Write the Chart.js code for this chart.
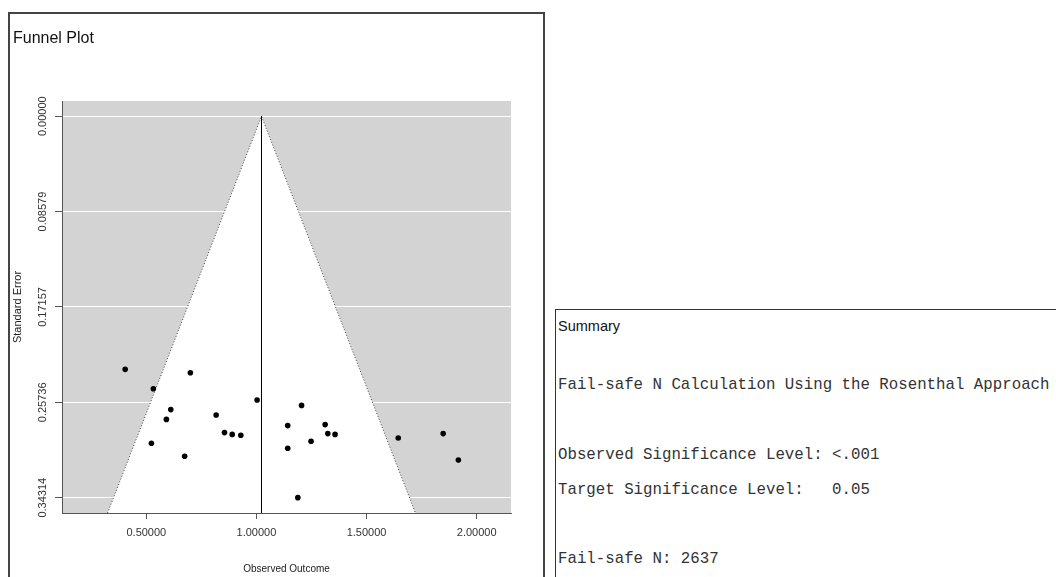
<!DOCTYPE html>
<html>
<head>
<meta charset="utf-8">
<title>Funnel Plot</title>
<script src="https://cdn.jsdelivr.net/npm/chart.js@4.4.1/dist/chart.umd.min.js"></script>
<style>
    body { margin: 0; background: #fff; width: 1056px; height: 577px; overflow: hidden; position: relative; }
    #plotPanel { position: absolute; left: 8px; top: 12px; width: 537px; height: 600px; box-sizing: border-box; border: 2px solid #444; }
    #plotTitle { position: absolute; left: 13px; top: 28px; font: 16px "Liberation Sans", Arial, sans-serif; color: #111; line-height: 20px; }
    #summaryPanel { position: absolute; left: 555px; top: 309px; width: 520px; height: 300px; box-sizing: border-box; border: 1px solid #333; }
    .sumHead { position: absolute; left: 558px; font: 14.5px "Liberation Sans", Arial, sans-serif; color: #111; line-height: 18px; }
    .mono { position: absolute; left: 558px; font: 15.75px "Liberation Mono", "Courier New", monospace; color: #333; line-height: 18px; white-space: pre; }
</style>
</head>
<body>
<div id="plotPanel"></div>
<div id="plotTitle">Funnel Plot</div>
<canvas id="funnelChart" width="550" height="577"></canvas>

<div id="summaryPanel"></div>
<div class="sumHead" style="top:317px">Summary</div>
<div class="mono" style="top:376px">Fail-safe N Calculation Using the Rosenthal Approach</div>
<div class="mono" style="top:446px">Observed Significance Level: &lt;.001</div>
<div class="mono" style="top:481px">Target Significance Level:   0.05</div>
<div class="mono" style="top:550px">Fail-safe N: 2637</div>

<script>
// Datos
const studyEffects = [0.404, 0.700, 0.532, 1.003, 0.611, 0.817, 0.591, 1.205, 1.142, 0.855, 0.890, 0.929,
                      1.248, 0.523, 1.142, 0.674, 1.188, 1.312, 1.324, 1.357, 1.644, 1.848, 1.917];
const studySE      = [0.2277, 0.2307, 0.2451, 0.2553, 0.2639, 0.2688, 0.2727, 0.2601, 0.2783, 0.2846, 0.2862, 0.2870,
                      0.2924, 0.2942, 0.2987, 0.3059, 0.3431, 0.2774, 0.2855, 0.2862, 0.2895, 0.2855, 0.3093];
const summaryEffect = 1.023;
const funnelX = [0.324, 1.023, 1.722];
const funnelY = [0.3569, 0, 0.3569];
const xTickValues = [0.5, 1.0, 1.5, 2.0];
const yTickValues = [0, 0.08579, 0.17157, 0.25736, 0.34314];
const xLimits = [0.117, 2.156];
const yLimits = [-0.0137, 0.3569];

const canvas = document.getElementById('funnelChart');

// Fondo gris del area de trazado
const plotBackground = {
    id: 'plotBackground',
    beforeDraw(chart) {
        const { ctx, chartArea: a } = chart;
        ctx.save();
        ctx.fillStyle = '#d3d3d3';
        ctx.fillRect(a.left, a.top, a.right - a.left, a.bottom - a.top);
        ctx.restore();
    }
};

const points = studyEffects.map((x, i) => ({ x: x, y: studySE[i] }));
const funnelShape = funnelX.map((x, i) => ({ x: x, y: funnelY[i] }));
const centerLine = [{ x: summaryEffect, y: 0 }, { x: summaryEffect, y: yLimits[1] }];

const tickFont = { family: '"Liberation Sans", Arial, sans-serif', size: 11 };

new Chart(canvas.getContext('2d'), {
    type: 'scatter',
    data: {
        datasets: [
            {
                label: 'Studies',
                data: points,
                order: 0,
                pointRadius: 2.8,
                pointBackgroundColor: '#000',
                pointBorderWidth: 0
            },
            {
                type: 'line',
                label: 'Summary',
                data: centerLine,
                order: 1,
                borderColor: '#000',
                borderWidth: 1,
                pointRadius: 0,
                fill: false
            },
            {
                type: 'line',
                label: 'Funnel',
                data: funnelShape,
                order: 2,
                borderColor: '#444',
                borderWidth: 1,
                borderDash: [1, 2],
                backgroundColor: '#ffffff',
                pointRadius: 0,
                tension: 0,
                fill: 'shape'
            }
        ]
    },
    options: {
        responsive: false,
        animation: false,
        layout: { padding: { left: 8, top: 101, right: 39, bottom: 0 } },
        plugins: {
            legend: { display: false },
            tooltip: { enabled: false }
        },
        scales: {
            x: {
                type: 'linear',
                min: xLimits[0],
                max: xLimits[1],
                afterBuildTicks: (scale) => { scale.ticks = xTickValues.map(v => ({ value: v })); },
                afterFit: (scale) => { scale.height = 64; },
                grid: { drawOnChartArea: false, drawTicks: true, tickLength: 6, tickColor: '#555' },
                border: { display: true, color: '#555', width: 1 },
                ticks: {
                    autoSkip: false,
                    maxRotation: 0,
                    padding: 7,
                    color: '#333',
                    font: tickFont,
                    callback: (v) => Number(v).toFixed(5)
                },
                title: {
                    display: true,
                    text: 'Observed Outcome',
                    color: '#222',
                    font: { family: '"Liberation Sans", Arial, sans-serif', size: 10 },
                    padding: { top: 0, bottom: 2 }
                }
            },
            y: {
                type: 'linear',
                reverse: true,
                min: yLimits[0],
                max: yLimits[1],
                afterBuildTicks: (scale) => { scale.ticks = yTickValues.map(v => ({ value: v })); },
                afterFit: (scale) => { scale.width = 54; },
                grid: { color: '#ffffff', lineWidth: 1, drawTicks: true, tickLength: 7, tickColor: '#555' },
                border: { display: true, color: '#555', width: 1 },
                ticks: {
                    autoSkip: false,
                    minRotation: 90,
                    maxRotation: 90,
                    crossAlign: 'center',
                    padding: -8,
                    color: '#333',
                    font: tickFont,
                    callback: (v) => Number(v).toFixed(5)
                },
                title: {
                    display: true,
                    text: 'Standard Error',
                    color: '#222',
                    font: { family: '"Liberation Sans", Arial, sans-serif', size: 11 },
                    padding: { top: 3, bottom: 0 }
                }
            }
        }
    },
    plugins: [plotBackground]
});
</script>
</body>
</html>
